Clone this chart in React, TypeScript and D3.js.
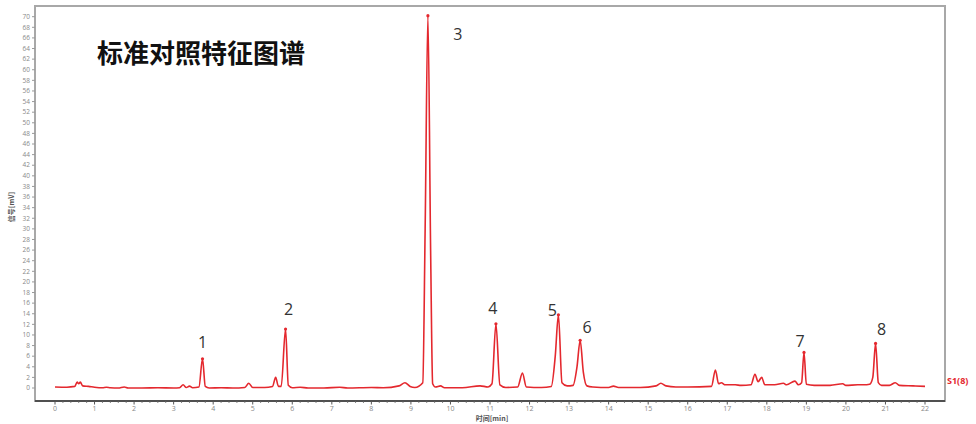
import React from "react";
import * as d3 from "d3";

// Retention time (min) and signal (mV)
const times = [
  0.0, 0.3, 0.5, 0.56, 0.6, 0.64, 0.7, 0.85, 1.0, 1.2, 1.3, 1.4, 1.6, 1.75, 1.85, 2.2, 2.6, 3.0,
  3.15, 3.24, 3.32, 3.4, 3.48, 3.64, 3.73, 3.8, 3.9, 4.2, 4.5, 4.8, 4.9, 5.0, 5.3, 5.5, 5.58, 5.65,
  5.72, 5.83, 5.9, 6.0, 6.2, 6.4, 6.8, 7.2, 7.4, 8.0, 8.3, 8.7, 8.85, 8.98, 9.1, 9.3, 9.36, 9.43,
  9.5, 9.55, 9.62, 9.75, 9.85, 10.3, 10.75, 10.95, 11.05, 11.15, 11.25, 11.4, 11.7, 11.82, 11.92,
  12.3, 12.55, 12.65, 12.73, 12.82, 12.95, 13.1, 13.2, 13.28, 13.36, 13.45, 13.6, 14.0, 14.12,
  14.25, 14.8, 15.2, 15.32, 15.45, 15.7, 16.0, 16.6, 16.7, 16.78, 16.85, 16.95, 17.2, 17.35, 17.6,
  17.7, 17.78, 17.87, 17.95, 18.2, 18.42, 18.5, 18.71, 18.8, 18.88, 18.94, 19.0, 19.2, 19.6, 19.92,
  20.0, 20.3, 20.45, 20.6, 20.68, 20.75, 20.82, 20.9, 21.1, 21.25, 21.35, 21.7, 22.0,
];
const signal = [
  0.2, 0.15, 0.3, 1.1, 0.8, 1.1, 0.4, 0.3, 0.15, 0.05, 0.15, 0.05, 0.0, 0.2, 0.0, 0.0, 0.05, 0.0,
  0.05, 0.6, 0.1, 0.35, 0.05, 0.2, 5.5, 0.3, 0.0, 0.05, 0.0, 0.1, 0.9, 0.1, 0.1, 0.3, 2.0, 0.3,
  0.3, 11.1, 0.5, 0.05, 0.15, 0.0, 0.0, 0.15, 0.0, 0.1, 0.05, 0.4, 1.0, 0.3, 0.1, 1.0, 30, 70.2,
  25, 0.8, 0.2, 0.4, 0.05, 0.05, 0.4, 0.2, 0.8, 12.1, 0.6, 0.1, 0.2, 2.8, 0.2,
  0.1, 0.3, 6, 13.8, 1.0, 0.4, 0.5, 4, 9.0, 3, 0.4, 0.2, 0.1, 0.35,
  0.1, 0.1, 0.4, 0.9, 0.4, 0.2, 0.2, 0.3, 3.4, 0.8, 1.0, 0.6, 0.6, 0.5, 0.6,
  2.6, 1.2, 2.0, 0.6, 0.6, 0.9, 0.6, 1.3, 0.6, 1.0, 6.7, 0.7, 0.5, 0.5, 0.8,
  0.5, 0.6, 0.6, 0.7, 2, 8.4, 1, 0.5, 0.5, 1.0, 0.5, 0.4, 0.3,
];

// Labelled characteristic peaks
const peakNames = ["1", "2", "3", "4", "5", "6", "7", "8"];
const peakTimes = [3.73, 5.83, 9.43, 11.15, 12.73, 13.28, 18.94, 20.75];
const peakHeights = [5.5, 11.1, 70.2, 12.1, 13.8, 9.0, 6.7, 8.4];
// label offsets in pixels relative to apex
const labelDx = [0, 3, 30, -3, -6, 7, -4, 6];
const labelDy = [-16, -20, 19, -15, -4, -13, -11, -14];

const yTickValues = d3.range(0, 71, 2);
const xTickValues = d3.range(0, 23, 1);
const title = "标准对照特征图谱";
const yLabel = "信号[mV]";
const xLabel = "时间[min]";
const seriesName = "S1(8)";

const W = 976;
const H = 424;
const frame = { left: 35, top: 6, right: 945, bottom: 401 };
const red = "#e4282e";

export default function App() {
  const x = d3.scaleLinear().domain([0, 22]).range([55, 925]);
  const y = d3.scaleLinear().domain([0, 70]).range([388, 16.7]);
  const pts = times.map((t, i) => [t, signal[i]] as [number, number]);
  const line = d3
    .line<[number, number]>()
    .x((d) => x(d[0]))
    .y((d) => y(d[1]))
    .curve(d3.curveMonotoneX);
  const minor = d3.range(0, 22.001, 0.2).filter((v) => Math.abs(v - Math.round(v)) > 0.01);

  return (
    <svg
      width={W}
      height={H}
      style={{ position: "absolute", left: 0, top: 0, background: "#fff" }}
      fontFamily="'Open Sans', 'Noto Sans', sans-serif"
    >
      <rect
        x={frame.left}
        y={frame.top}
        width={frame.right - frame.left}
        height={frame.bottom - frame.top}
        fill="none"
        stroke="#a8a8a8"
        strokeWidth={2}
      />
      {/* y axis */}
      {yTickValues.map((v) => (
        <g key={"y" + v}>
          <line x1={frame.left - 3} x2={frame.left} y1={y(v)} y2={y(v)} stroke="#999" strokeWidth={1} />
          <text x={frame.left - 5} y={y(v)} dy="0.35em" textAnchor="end" fontSize={6.5} fill="#888">
            {v}
          </text>
        </g>
      ))}
      <text
        transform={`translate(14,207) rotate(-90)`}
        textAnchor="middle"
        fontSize={7}
        fontWeight="bold"
        fill="#555"
        fontFamily="'Noto Sans CJK SC', sans-serif"
      >
        {yLabel}
      </text>
      {/* x axis */}
      <line x1={frame.left} x2={frame.right} y1={frame.bottom} y2={frame.bottom} stroke="#333" strokeWidth={1.5} />
      {minor.map((v, i) => (
        <line key={"m" + i} x1={x(v)} x2={x(v)} y1={frame.bottom} y2={frame.bottom + 2} stroke="#666" strokeWidth={0.8} />
      ))}
      {xTickValues.map((v) => (
        <g key={"x" + v}>
          <line x1={x(v)} x2={x(v)} y1={frame.bottom} y2={frame.bottom + 3.5} stroke="#555" strokeWidth={1} />
          <text x={x(v)} y={frame.bottom + 8} dy="0.35em" textAnchor="middle" fontSize={7} fill="#888">
            {v}
          </text>
        </g>
      ))}
      <text
        x={492}
        y={frame.bottom + 20}
        textAnchor="middle"
        fontSize={7}
        fontWeight="bold"
        fill="#555"
        fontFamily="'Noto Sans CJK SC', sans-serif"
      >
        {xLabel}
      </text>
      {/* trace */}
      <path d={line(pts) || ""} fill="none" stroke={red} strokeWidth={1.6} strokeLinejoin="round" />
      {peakTimes.map((t, i) => (
        <circle key={"p" + i} cx={x(t)} cy={y(peakHeights[i])} r={1.6} fill={red} />
      ))}
      {peakNames.map((n, i) => (
        <text
          key={"l" + i}
          x={x(peakTimes[i]) + labelDx[i]}
          y={y(peakHeights[i]) + labelDy[i]}
          dy="0.35em"
          textAnchor="middle"
          fontSize={16}
          fill="#333"
        >
          {n}
        </text>
      ))}
      <text x={947} y={381} dy="0.35em" fontSize={9} fontWeight="bold" fill={red}>
        {seriesName}
      </text>
      <text
        x={97}
        y={63}
        fontSize={26}
        fontWeight={600}
        fill="#111"
        fontFamily="'Noto Sans CJK SC', sans-serif"
      >
        {title}
      </text>
    </svg>
  );
}
